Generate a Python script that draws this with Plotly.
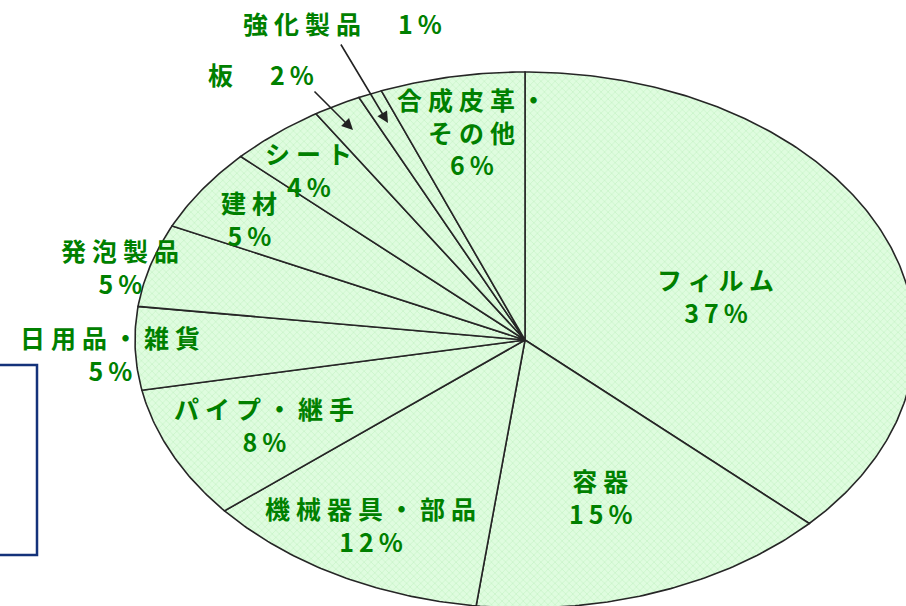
import numpy as np
import plotly.graph_objects as go

# ---- data (clockwise from 12 o'clock) ----
categories = ["フィルム", "容器", "機械器具・部品", "パイプ・継手", "日用品・雑貨",
              "発泡製品", "建材", "シート", "板", "強化製品", "合成皮革・その他"]
values = [37, 15, 12, 8, 5, 5, 5, 4, 2, 1, 6]

# ---- layout helpers ----
W, H = 906, 606
# label template lines and centre (px) of the whole label block
label_spec = {
    "フィルム": (["フィルム", "{p}"], 715, 295),
    "容器": (["容器", "{p}"], 600, 496),
    "機械器具・部品": (["機械器具・部品", "{p}"], 370, 524),
    "パイプ・継手": (["パイプ・継手", "{p}"], 264, 424),
    "日用品・雑貨": (["日用品・雑貨", "{p}"], 110, 353),
    "発泡製品": (["発泡製品", "{p}"], 120, 266),
    "建材": (["建材", "{p}"], 249, 218),
    "シート": (["シート", "{p}"], 308, 169),
    "板": (["板　{p}"], 260, 74),
    "強化製品": (["強化製品　{p}"], 342, 23),
    "合成皮革・その他": (["合成皮革・", "その他", "{p}"], 471, 132),
}
arrows = {"板": (353, 130, -40, -40), "強化製品": (388, 123, -48, -80)}

cx, cy, rx, ry = 525, 340, 390, 268  # pie centre / radii in px
NAME_SP, PCT_SP = 6, 5

GREEN = "#008000"
fig = go.Figure()

total = sum(values)
cum = np.concatenate([[0], np.cumsum(values)]) / total
for i, cat in enumerate(categories):
    t = np.linspace(cum[i], cum[i + 1], max(8, int(values[i] * 6))) * 2 * np.pi
    xs = np.concatenate([[0], np.sin(t), [0]])
    ys = np.concatenate([[0], np.cos(t), [0]])
    fig.add_trace(go.Scatter(
        x=xs, y=ys, mode="lines", fill="toself",
        fillcolor="#d6fad6",
        fillpattern=dict(shape="x", bgcolor="#dffcdf", fgcolor="#aeeaae",
                         size=5, solidity=0.25),
        line=dict(color="#262626", width=1.6),
        hoverinfo="text", text=f"{cat} {values[i]}%", showlegend=False,
    ))

ann = []
for cat, v in zip(categories, values):
    lines, px, py = label_spec[cat]
    out = []
    for txt in lines:
        pct = f"{v}%"
        if "{p}" in txt:
            name_part = txt.replace("{p}", "")
        else:
            name_part, pct = txt, ""
        h = ""
        if name_part:
            h += f"<span style='letter-spacing:{NAME_SP}px'>{name_part}</span>"
        if pct:
            h += f"<span style='letter-spacing:{PCT_SP}px'>{pct}</span>"
        out.append(h)
    ann.append(dict(
        text="<br>".join(out), align="center",
        x=px / W, y=1 - py / H, xref="paper", yref="paper",
        xanchor="center", yanchor="middle", showarrow=False,
        xshift=3,
        font=dict(family="Noto Sans CJK JP", size=25, color=GREEN, weight="bold"),
    ))
for cat, (tx, ty, ax, ay) in arrows.items():
    ann.append(dict(
        text="", x=tx / W, y=1 - ty / H, xref="paper", yref="paper",
        ax=ax, ay=ay, showarrow=True, arrowhead=2, arrowsize=1.4,
        arrowwidth=1.6, arrowcolor="#222222",
    ))

fig.update_layout(
    width=W, height=H, margin=dict(l=0, r=0, t=0, b=0),
    paper_bgcolor="white", plot_bgcolor="white",
    xaxis=dict(range=[-cx / rx, (W - cx) / rx], visible=False, fixedrange=True),
    yaxis=dict(range=[-(H - cy) / ry, cy / ry], visible=False, fixedrange=True),
    annotations=ann,
    shapes=[dict(type="rect", xref="paper", yref="paper",
                 x0=-0.05, x1=37 / W, y0=1 - 555 / H, y1=1 - 365 / H,
                 line=dict(color="#14327a", width=2.5))],
    showlegend=False,
)

fig.write_html("out.html")
